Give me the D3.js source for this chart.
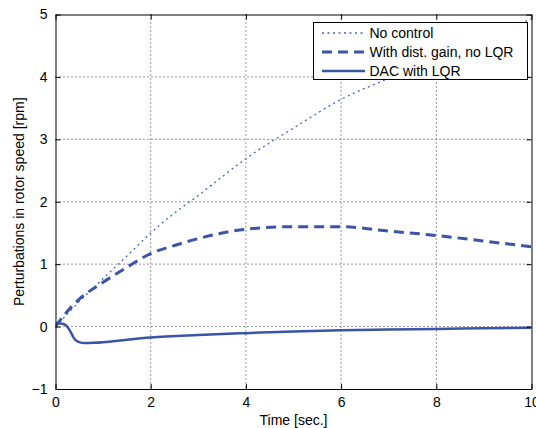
<!DOCTYPE html>
<html>
<head>
<meta charset="utf-8">
<script src="https://cdn.jsdelivr.net/npm/d3@7"></script>
<style>
  html, body { margin: 0; padding: 0; background: #fff; }
  svg { display: block; }
  text { font-family: "Liberation Sans", Arial, sans-serif; fill: #000; }
</style>
</head>
<body>
<svg id="chart" width="536" height="428"></svg>
<script>
// ---- Data ----
const time_noControl = [0, 0.5, 1, 1.5, 2, 2.5, 3, 3.5, 4, 5, 6, 7, 8, 9, 10];
const val_noControl  = [0, 0.4, 0.77, 1.13, 1.5, 1.82, 2.1, 2.4, 2.69, 3.18, 3.64, 3.98, 4.33, 4.64, 4.93];

const time_distGain = [0, 0.2, 0.5, 1, 1.5, 2, 2.5, 3, 3.5, 4, 5, 6, 7, 8, 9, 10];
const val_distGain  = [0, 0.2, 0.44, 0.71, 0.95, 1.17, 1.3, 1.41, 1.5, 1.56, 1.6, 1.6, 1.53, 1.46, 1.37, 1.28];

const time_dac = [0, 0.1, 0.2, 0.3, 0.4, 0.5, 0.6, 0.8, 1, 1.5, 2, 3, 4, 5, 6, 7, 8, 9, 10];
const val_dac  = [0.05, 0.05, 0.03, -0.06, -0.2, -0.25, -0.265, -0.26, -0.25, -0.21, -0.175, -0.135, -0.105, -0.08, -0.06, -0.047, -0.037, -0.027, -0.018];

const xTicks = [0, 2, 4, 6, 8, 10];
const yTicks = [-1, 0, 1, 2, 3, 4, 5];
const seriesNames = ["No control", "With dist. gain, no LQR", "DAC with LQR"];
const xLabel = "Time [sec.]";
const yLabel = "Perturbations in rotor speed [rpm]";

// ---- Layout ----
const svg = d3.select("#chart");
const L = 55.5, R = 531.5, T = 14.5, B = 389;
const x = d3.scaleLinear().domain([0, 10]).range([L, R]);
const y = d3.scaleLinear().domain([-1, 5]).range([B, T]);
const blue = "#3a54a6";
const FS = 14;

// grid
const grid = svg.append("g");
xTicks.forEach(t => {
  if (t === 0 || t === 10) return;
  grid.append("line").attr("x1", x(t)).attr("x2", x(t)).attr("y1", T).attr("y2", B)
    .attr("stroke", "#333").attr("stroke-width", 1).attr("stroke-dasharray", "1,3");
});
yTicks.forEach(t => {
  if (t === -1 || t === 5) return;
  grid.append("line").attr("x1", L).attr("x2", R).attr("y1", y(t)).attr("y2", y(t))
    .attr("stroke", "#333").attr("stroke-width", 1).attr("stroke-dasharray", "1,3");
});

// series
const series = [
  {t: time_noControl, v: val_noControl, w: 1.3, dash: "2,3.5", color: "#4a66bb"},
  {t: time_distGain, v: val_distGain, w: 3, dash: "10,6", color: blue},
  {t: time_dac, v: val_dac, w: 2.5, dash: null, color: blue}
];
const line = d3.line().x(d => x(d[0])).y(d => y(d[1])).curve(d3.curveMonotoneX);
svg.append("clipPath").attr("id", "clip").append("rect")
  .attr("x", L).attr("y", T).attr("width", R - L).attr("height", B - T);
const plotG = svg.append("g").attr("clip-path", "url(#clip)");
series.forEach(s => {
  const pts = s.t.map((t, i) => [t, s.v[i]]);
  const p = plotG.append("path").attr("d", line(pts)).attr("fill", "none")
    .attr("stroke", s.color).attr("stroke-width", s.w).attr("stroke-linejoin", "round");
  if (s.dash) p.attr("stroke-dasharray", s.dash);
});

// axes (MATLAB-style inward ticks on all sides)
const tickLen = 5;
const axB = d3.axisBottom(x).tickValues(xTicks).tickSizeInner(-tickLen).tickSizeOuter(0).tickPadding(8).tickFormat(d3.format("d"));
const axT = d3.axisTop(x).tickValues(xTicks).tickSizeInner(-tickLen).tickSizeOuter(0).tickFormat("");
const axLft = d3.axisLeft(y).tickValues(yTicks).tickSizeInner(-tickLen).tickSizeOuter(0).tickPadding(8)
  .tickFormat(d => d < 0 ? "\u2212" + Math.abs(d) : String(d));
const axRt = d3.axisRight(y).tickValues(yTicks).tickSizeInner(-tickLen).tickSizeOuter(0).tickFormat("");

function style(g) {
  g.selectAll("path").attr("stroke", "#000").attr("stroke-width", 1);
  g.selectAll("line").attr("stroke", "#000").attr("stroke-width", 1);
  g.selectAll("text").attr("font-size", FS).attr("font-family", "Liberation Sans, Arial, sans-serif").attr("fill", "#000");
}
svg.append("g").attr("transform", `translate(0,${B})`).call(axB).call(style);
svg.append("g").attr("transform", `translate(0,${T})`).call(axT).call(style);
svg.append("g").attr("transform", `translate(${L},0)`).call(axLft).call(style);
svg.append("g").attr("transform", `translate(${R},0)`).call(axRt).call(style);

// axis labels
svg.append("text").attr("x", (L + R) / 2).attr("y", 425).attr("text-anchor", "middle")
  .attr("font-size", FS).text(xLabel);
svg.append("text").attr("transform", `translate(24,${(T + B) / 2}) rotate(-90)`)
  .attr("text-anchor", "middle").attr("font-size", FS).text(yLabel);

// legend
const lg = svg.append("g");
lg.append("rect").attr("x", 313.5).attr("y", 22.5).attr("width", 214).attr("height", 57)
  .attr("fill", "#fff").attr("stroke", "#000").attr("stroke-width", 1);
const rowsY = [33, 52, 71];
series.forEach((s, i) => {
  const l = lg.append("line").attr("x1", 322).attr("x2", 365).attr("y1", rowsY[i]).attr("y2", rowsY[i])
    .attr("stroke", s.color).attr("stroke-width", s.w);
  if (s.dash) l.attr("stroke-dasharray", s.dash);
  lg.append("text").attr("x", 369.5).attr("y", rowsY[i]).attr("dy", "0.36em")
    .attr("font-size", FS).text(seriesNames[i]);
});
</script>
</body>
</html>
